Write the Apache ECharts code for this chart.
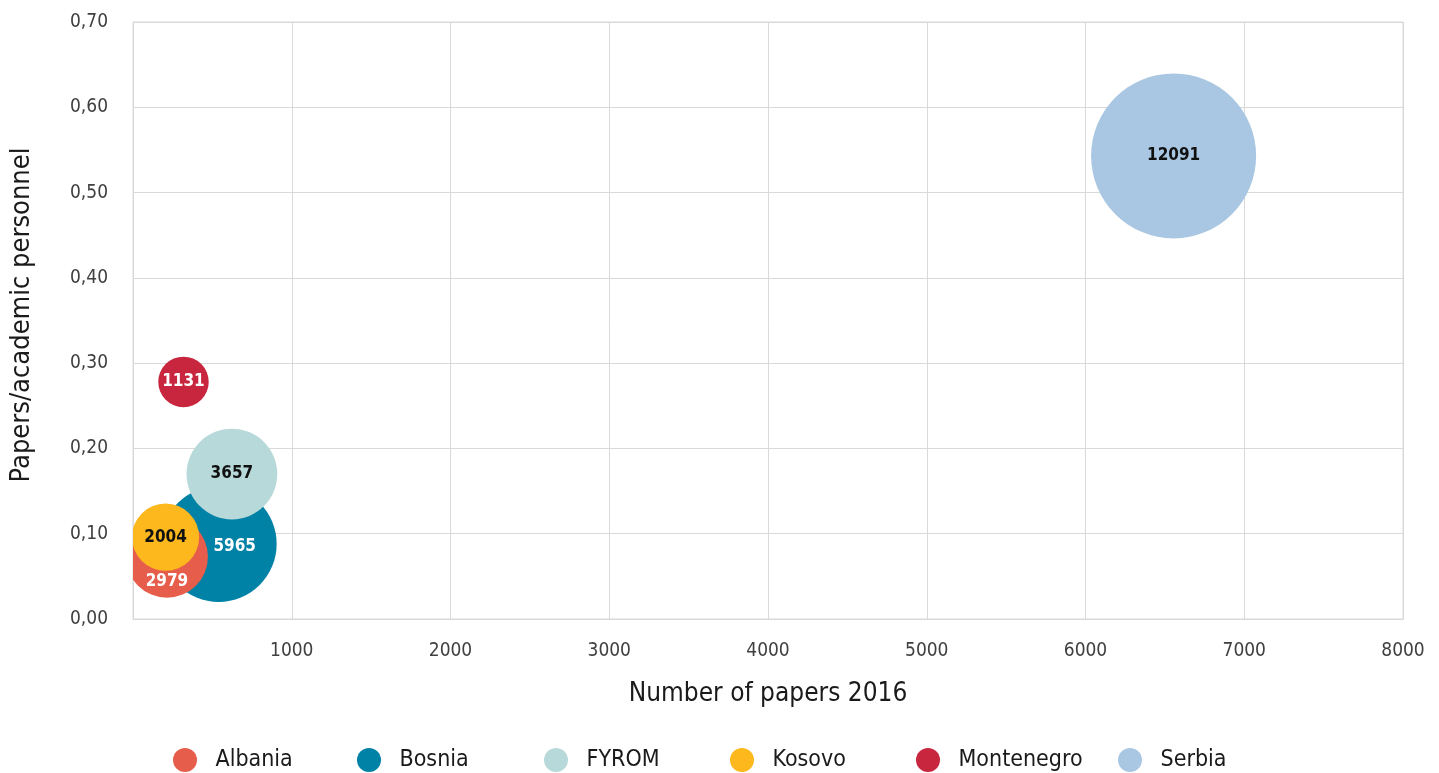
<!DOCTYPE html>
<html>
<head>
<meta charset="utf-8">
<title>Papers per academic personnel, 2016</title>
<script src="https://cdn.jsdelivr.net/npm/echarts@6/dist/echarts.min.js"></script>
<style>
  html, body { margin: 0; padding: 0; background: #ffffff; }
  #chart { width: 1439px; height: 773px; }
</style>
</head>
<body>
<div id="chart"></div>
<script>
// Countries and their values
const countries = ['Albania', 'Bosnia', 'FYROM', 'Kosovo', 'Montenegro', 'Serbia'];
const papers2016 = [214, 540, 623, 205, 318, 6555];          // x: number of papers 2016
const papersPerPersonnel = [0.073, 0.088, 0.170, 0.096, 0.278, 0.543]; // y
const bubbleValues = [2979, 5965, 3657, 2004, 1131, 12091];  // bubble size / label
const xTicks = [0, 1000, 2000, 3000, 4000, 5000, 6000, 7000, 8000];
const yTicks = [0, 0.1, 0.2, 0.3, 0.4, 0.5, 0.6, 0.7];

// Presentation
const colors = ['#E65E4B', '#0082A6', '#B8D9D9', '#FDB81E', '#C8263F', '#A9C7E2'];
const labelColors = ['#ffffff', '#ffffff', '#111111', '#111111', '#ffffff', '#111111'];
const labelOffsets = [[0, 25], [16, 3], [0, 0], [0, 0], [0, 0], [0, 0]];
const legendLeft = [168, 352, 539, 725, 911, 1113];
const FONT = "'Liberation Sans Narrow', 'DejaVu Sans Condensed', Roboto, sans-serif";

const maxValue = Math.max(...bubbleValues);
const MAX_DIAMETER = 165;
// bubble area proportional to value
const sizeOf = v => MAX_DIAMETER * Math.sqrt(v / maxValue);

// larger bubbles sit behind smaller ones
const order = bubbleValues.map((v, i) => i).sort((a, b) => bubbleValues[b] - bubbleValues[a]);
const zOf = {};
order.forEach((idx, rank) => { zOf[idx] = 2 + rank; });

// each bubble is a circle at the data coordinate, clipped to the plot area
const series = countries.map((name, i) => ({
  name: name,
  type: 'custom',
  z: zOf[i],
  clip: true,
  coordinateSystem: 'cartesian2d',
  data: [[papers2016[i], papersPerPersonnel[i], bubbleValues[i]]],
  encode: { x: 0, y: 1 },
  itemStyle: { color: colors[i] },
  emphasis: { disabled: true },
  renderItem: (params, api) => {
    const pt = api.coord([api.value(0), api.value(1)]);
    const r = sizeOf(api.value(2)) / 2;
    const cs = params.coordSys;
    return {
      type: 'group',
      children: [
        {
          type: 'circle',
          shape: { cx: pt[0], cy: pt[1], r: r },
          style: { fill: colors[i] },
          clipPath: {
            type: 'rect',
            shape: { x: cs.x, y: cs.y, width: cs.width, height: cs.height }
          }
        },
        {
          type: 'text',
          x: pt[0] + labelOffsets[i][0],
          y: pt[1] + labelOffsets[i][1],
          style: {
            text: String(api.value(2)),
            align: 'center',
            verticalAlign: 'middle',
            fill: labelColors[i],
            fontFamily: FONT,
            fontSize: 17,
            fontWeight: 'bold'
          }
        }
      ]
    };
  }
}));

const legends = countries.map((name, i) => ({
  data: [name],
  left: legendLeft[i],
  top: 743,
  orient: 'horizontal',
  icon: 'circle',
  itemWidth: 51,
  itemHeight: 24,
  selectedMode: false,
  textStyle: { fontFamily: FONT, fontSize: 23, color: '#1a1a1a' }
}));

const chart = echarts.init(document.getElementById('chart'), null, { renderer: 'canvas' });
chart.setOption({
  animation: false,
  color: colors,
  grid: {
    left: 132, right: 36, top: 22, bottom: 154,
    show: true, borderColor: '#d9d9d9', borderWidth: 1
  },
  legend: legends,
  xAxis: {
    type: 'value',
    min: xTicks[0], max: xTicks[xTicks.length - 1], interval: 1000,
    name: 'Number of papers 2016',
    nameLocation: 'middle',
    nameGap: 62,
    nameTextStyle: { fontFamily: FONT, fontSize: 26, color: '#1a1a1a' },
    axisLine: { show: true, lineStyle: { color: '#d9d9d9' } },
    axisTick: { show: false },
    splitLine: { show: true, lineStyle: { color: '#d9d9d9', width: 1 } },
    axisLabel: {
      margin: 23,
      fontFamily: FONT, fontSize: 19, color: '#404040',
      formatter: v => (v === 0 ? '' : String(v))
    }
  },
  yAxis: {
    type: 'value',
    min: yTicks[0], max: yTicks[yTicks.length - 1], interval: 0.1,
    name: 'Papers/academic personnel',
    nameLocation: 'middle',
    nameGap: 98,
    nameTextStyle: { fontFamily: FONT, fontSize: 27, color: '#1a1a1a', padding: [0, 0, 0, 11] },
    axisLine: { show: true, lineStyle: { color: '#d9d9d9' } },
    axisTick: { show: false },
    splitLine: { show: true, lineStyle: { color: '#d9d9d9', width: 1 } },
    axisLabel: {
      margin: 25,
      fontFamily: FONT, fontSize: 19, color: '#404040',
      formatter: v => v.toFixed(2).replace('.', ',')
    }
  },
  series: series
});
</script>
</body>
</html>
